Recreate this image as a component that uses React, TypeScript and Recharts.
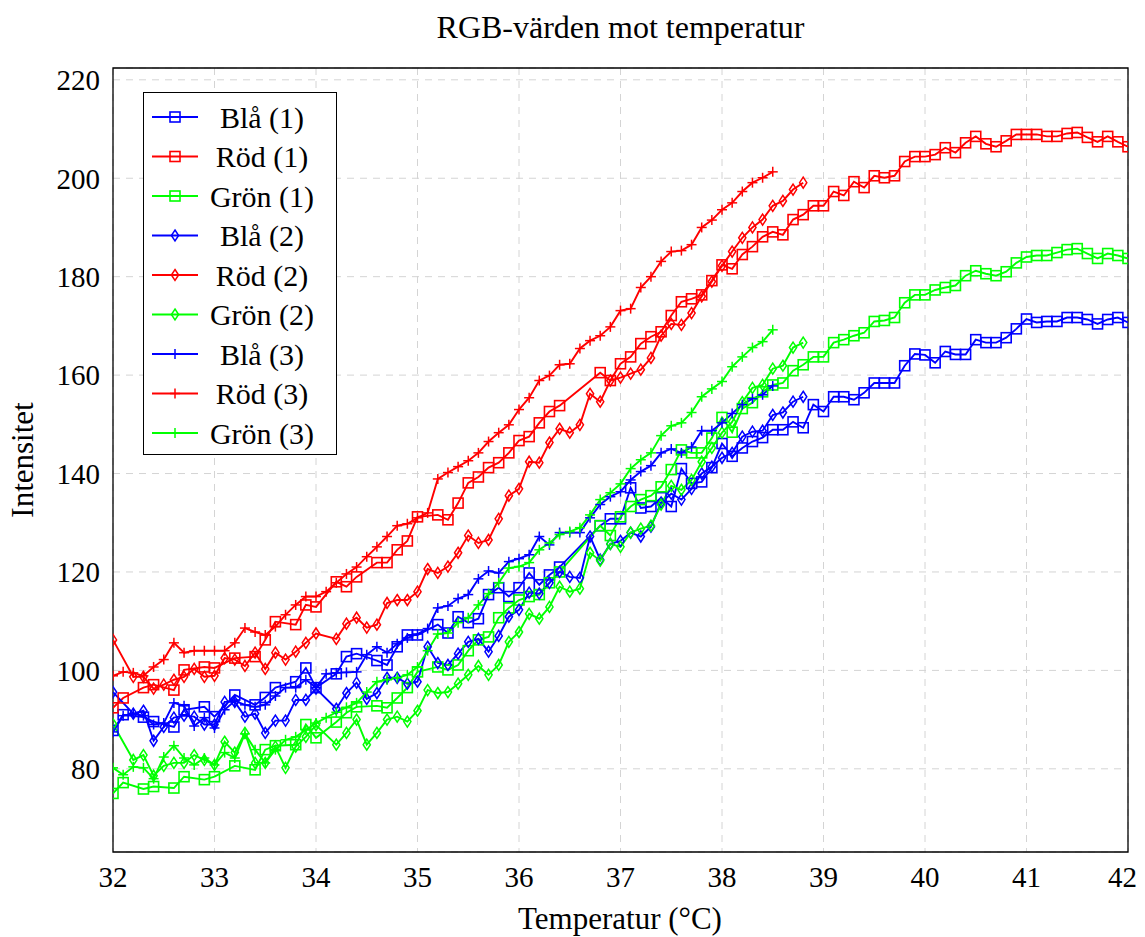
import React from 'react';
import { LineChart, Line, XAxis, YAxis, CartesianGrid, ReferenceArea } from 'recharts';

const FONT = '"Liberation Serif", "Times New Roman", serif';
const BLUE = '#0000ff';
const RED = '#ff0000';
const GREEN = '#00ff00';

const xTicks = [32, 33, 34, 35, 36, 37, 38, 39, 40, 41, 42];
const yTicks = [80, 100, 120, 140, 160, 180, 200, 220];

// Run 1 (squares)
const temps1 = [32.0, 32.1, 32.3, 32.4, 32.6, 32.7, 32.9, 33.0, 33.2, 33.4, 33.5, 33.6, 33.8, 33.9, 34.0,
  34.2, 34.3, 34.4, 34.6, 34.7, 34.8, 34.9, 35.0,
  35.2, 35.3, 35.4, 35.5, 35.6, 35.7, 35.8, 35.9, 36.0, 36.1, 36.2, 36.3, 36.4,
  36.8, 36.9, 37.0, 37.1, 37.2, 37.3, 37.4, 37.5, 37.6, 37.7, 37.8, 37.9, 38.0,
  38.1, 38.2, 38.3, 38.4, 38.5, 38.6, 38.7, 38.8, 38.9, 39.0,
  39.1, 39.2, 39.3, 39.4, 39.5, 39.6, 39.7, 39.8, 39.9, 40.0,
  40.1, 40.2, 40.3, 40.4, 40.5, 40.6, 40.7, 40.8, 40.9, 41.0,
  41.1, 41.2, 41.3, 41.4, 41.5, 41.6, 41.7, 41.8, 41.9, 42.0];
const red1 = [92.4, 94.4, 96.5, 97.1, 96.0, 100.1, 100.7, 100.5, 102.5, 102.8, 106.2, 109.9, 109.3, 113.3, 112.9,
  118.0, 117.0, 119.0, 121.9, 121.9, 124.5, 126.3, 131.2,
  131.6, 130.6, 134.0, 138.1, 139.3, 141.2, 142.2, 144.2, 146.7, 147.5, 150.3, 152.6, 153.8,
  160.5, 158.9, 162.3, 163.7, 166.4, 167.8, 168.8, 172.1, 174.9, 175.5, 176.3, 179.2, 182.4,
  181.6, 184.5, 186.1, 188.1, 189.1, 188.5, 191.6, 192.6, 194.4, 194.4,
  197.3, 196.5, 199.3, 198.1, 200.5, 200.1, 200.5, 203.4, 204.4, 204.4,
  204.8, 206.2, 205.2, 207.2, 208.5, 207.0, 206.4, 207.6, 208.9, 208.9,
  208.9, 208.5, 208.5, 209.1, 209.3, 208.3, 207.4, 208.5, 207.4, 206.4];
const blue1 = [87.8, 91.0, 90.5, 89.6, 88.5, 92.0, 92.6, 90.6, 95.0, 93.0, 94.5, 96.5, 97.7, 100.5, 96.5,
  99.3, 102.8, 103.4, 102.0, 101.1, 104.8, 107.2, 107.2,
  109.3, 107.6, 110.9, 109.7, 110.5, 115.4, 116.8, 115.0, 116.8, 119.8, 117.4, 119.4, 121.0,
  129.4, 130.8, 130.8, 137.1, 133.0, 133.3, 135.1, 133.3, 141.0, 138.0, 138.3, 141.2, 146.1,
  143.5, 145.2, 146.5, 147.3, 148.9, 148.9, 150.5, 149.3, 154.0, 152.6,
  155.6, 155.6, 155.0, 156.4, 158.4, 158.4, 158.4, 161.9, 164.3, 164.1,
  162.5, 164.8, 164.2, 164.2, 167.2, 166.6, 166.6, 167.6, 169.4, 171.4,
  170.7, 170.9, 170.9, 171.7, 171.7, 171.3, 170.4, 171.3, 171.7, 170.7];
const green1 = [75.0, 77.2, 75.9, 76.4, 76.1, 78.4, 77.8, 78.4, 80.6, 79.8, 83.9, 84.7, 84.9, 89.0, 86.3,
  89.5, 91.4, 92.6, 92.8, 92.4, 94.4, 96.5, 99.7,
  100.7, 100.1, 101.1, 104.0, 106.2, 106.8, 110.7, 112.7, 114.3, 115.0, 115.4, 117.8, 120.0,
  129.4, 127.4, 131.2, 133.3, 134.7, 135.5, 137.3, 140.8, 144.8, 144.2, 144.2, 147.2, 151.4,
  148.4, 153.2, 154.4, 156.6, 158.0, 158.4, 160.9, 162.1, 163.7, 163.7,
  166.6, 167.2, 168.0, 168.6, 170.9, 171.1, 171.7, 174.7, 176.3, 176.3,
  177.3, 177.8, 178.2, 180.2, 181.2, 180.6, 180.2, 181.0, 182.8, 184.0,
  184.3, 184.3, 184.9, 185.5, 185.7, 184.7, 183.7, 184.7, 184.3, 183.7];

// Run 2 (diamonds)
const temps2 = [32.0,
  32.2, 32.3, 32.4, 32.5, 32.6, 32.7, 32.8, 32.9, 33.0,
  33.1, 33.2, 33.3, 33.4, 33.5, 33.6, 33.7, 33.8, 33.9, 34.0,
  34.2, 34.3, 34.4, 34.5, 34.6, 34.7, 34.8, 34.9, 35.0,
  35.1, 35.2, 35.3, 35.4, 35.5, 35.6, 35.7, 35.8, 35.9, 36.0,
  36.1, 36.2, 36.3, 36.4, 36.5, 36.6, 36.7, 36.8, 36.9, 37.0,
  37.1, 37.2, 37.3, 37.4, 37.5, 37.6, 37.7, 37.8, 37.9, 38.0,
  38.1, 38.2, 38.3, 38.4, 38.5, 38.6, 38.7, 38.8];
const red2 = [106.2,
  98.7, 98.7, 96.3, 97.1, 98.1, 98.7, 100.3, 98.7, 98.9,
  102.5, 102.2, 100.9, 103.6, 100.3, 103.6, 102.2, 103.8, 105.6, 107.5,
  106.4, 109.5, 110.7, 108.7, 109.3, 113.7, 114.3, 114.3, 116.0,
  120.6, 119.8, 121.1, 123.9, 127.4, 125.9, 126.5, 130.8, 135.5, 136.9,
  142.4, 142.2, 146.3, 149.1, 148.3, 149.9, 156.2, 154.6, 158.9, 159.5,
  160.3, 161.1, 163.5, 168.0, 170.4, 170.2, 172.6, 176.0, 179.0, 182.2,
  185.1, 187.9, 190.0, 191.6, 194.4, 195.4, 197.7, 199.1];
const blue2 = [95.6,
  91.2, 91.8, 85.7, 88.5, 90.4, 90.8, 90.6, 89.0, 89.0,
  93.6, 93.6, 90.6, 91.2, 87.3, 89.8, 89.8, 94.0, 94.0, 96.3,
  92.2, 95.4, 97.5, 94.2, 95.4, 98.5, 98.5, 97.3, 97.7,
  104.8, 101.5, 101.1, 103.4, 105.8, 106.4, 103.8, 107.0, 110.9, 112.3,
  115.8, 115.6, 117.8, 120.0, 119.0, 118.8, 127.2, 122.5, 125.7, 126.3,
  128.0, 127.2, 129.2, 134.1, 135.9, 134.7, 136.9, 140.0, 141.4, 143.2,
  144.2, 147.5, 148.5, 148.7, 151.9, 152.4, 154.6, 155.6];
const green2 = [89.1,
  81.8, 82.8, 78.6, 80.6, 81.2, 81.2, 82.8, 81.8, 80.8,
  85.5, 83.3, 87.3, 81.2, 81.2, 84.5, 80.2, 84.5, 86.5, 88.9,
  84.9, 87.3, 90.0, 84.9, 87.3, 90.0, 90.6, 89.6, 91.8,
  96.0, 95.4, 95.6, 97.3, 99.1, 100.9, 99.1, 101.1, 105.8, 107.8,
  111.5, 110.5, 112.9, 117.0, 116.0, 116.6, 123.9, 122.3, 125.7, 125.1,
  128.0, 128.8, 129.4, 133.7, 137.5, 136.7, 138.7, 142.4, 145.2, 148.3,
  150.5, 154.5, 157.4, 158.0, 161.3, 161.9, 165.6, 166.6];

// Run 3 (plus marks)
const temps3 = [32.0, 32.1, 32.2, 32.3, 32.4, 32.5, 32.6, 32.7, 32.8, 32.9,
  33.0, 33.1, 33.2, 33.3, 33.4, 33.5, 33.6, 33.7, 33.8, 33.9,
  34.0, 34.1, 34.2, 34.3, 34.4, 34.5, 34.6, 34.7, 34.8, 34.9,
  35.0, 35.1, 35.2, 35.3, 35.4, 35.5, 35.6, 35.7, 35.8, 35.9,
  36.0, 36.1, 36.2, 36.3, 36.4, 36.5, 36.6, 36.7, 36.8, 36.9,
  37.0, 37.1, 37.2, 37.3, 37.4, 37.5, 37.6, 37.7, 37.8, 37.9,
  38.0, 38.1, 38.2, 38.3, 38.4, 38.5];
const red3 = [98.9, 99.7, 99.5, 98.9, 100.7, 102.2, 105.6, 103.6, 104.0, 104.0,
  104.0, 104.0, 105.6, 108.6, 107.8, 107.2, 108.9, 111.3, 113.3, 115.0,
  115.0, 116.0, 117.8, 119.6, 121.0, 123.1, 125.1, 127.2, 129.4, 129.8,
  131.0, 132.0, 138.9, 140.2, 141.4, 142.6, 144.2, 146.5, 148.3, 149.9,
  153.0, 155.4, 158.9, 159.9, 162.1, 162.3, 165.4, 167.0, 168.0, 169.8,
  173.1, 173.5, 177.8, 180.0, 183.1, 185.1, 185.3, 186.5, 190.0, 191.5,
  193.6, 195.0, 197.3, 199.1, 200.1, 201.3];
const blue3 = [87.5, 90.8, 91.2, 90.8, 89.0, 89.3, 93.4, 92.8, 88.7, 90.4,
  88.3, 92.0, 93.8, 93.0, 92.6, 93.0, 94.8, 96.5, 96.5, 98.1,
  96.5, 99.3, 99.5, 99.6, 99.7, 103.2, 104.8, 103.6, 105.4, 106.6,
  107.4, 108.5, 112.7, 113.1, 114.6, 115.4, 118.6, 120.2, 119.8, 122.1,
  122.7, 123.5, 127.2, 125.5, 128.0, 128.0, 128.0, 131.0, 133.7, 135.3,
  136.3, 138.7, 140.4, 141.6, 144.2, 145.0, 144.2, 145.4, 148.7, 148.7,
  150.3, 152.2, 154.0, 155.2, 156.0, 157.8];
const green3 = [80.2, 78.8, 80.4, 80.2, 78.0, 82.4, 84.7, 82.2, 80.8, 82.2,
  80.8, 83.3, 82.2, 87.1, 83.9, 81.2, 83.9, 85.9, 86.5, 87.9,
  89.3, 90.4, 91.5, 92.5, 93.4, 95.6, 97.7, 98.1, 98.5, 99.1,
  100.7, 104.0, 107.4, 107.6, 109.7, 110.7, 113.3, 115.6, 117.8, 120.8,
  121.1, 121.9, 124.5, 125.9, 127.6, 128.2, 129.0, 131.6, 134.7, 136.1,
  137.9, 141.0, 142.8, 144.2, 147.7, 149.7, 150.3, 152.4, 155.6, 157.2,
  158.7, 161.7, 163.7, 165.6, 166.8, 169.2];

type Shape = 'square' | 'diamond' | 'plus';

function buildRun(temps: number[], b: number[], r: number[], g: number[]) {
  return temps.map((t, i) => ({ t, b: b[i], r: r[i], g: g[i] }));
}

const run1 = buildRun(temps1, blue1, red1, green1);
const run2 = buildRun(temps2, blue2, red2, green2);
const run3 = buildRun(temps3, blue3, red3, green3);

const series: { name: string; data: any[]; key: string; color: string; shape: Shape }[] = [
  { name: 'Blå (1)', data: run1, key: 'b', color: BLUE, shape: 'square' },
  { name: 'Röd (1)', data: run1, key: 'r', color: RED, shape: 'square' },
  { name: 'Grön (1)', data: run1, key: 'g', color: GREEN, shape: 'square' },
  { name: 'Blå (2)', data: run2, key: 'b', color: BLUE, shape: 'diamond' },
  { name: 'Röd (2)', data: run2, key: 'r', color: RED, shape: 'diamond' },
  { name: 'Grön (2)', data: run2, key: 'g', color: GREEN, shape: 'diamond' },
  { name: 'Blå (3)', data: run3, key: 'b', color: BLUE, shape: 'plus' },
  { name: 'Röd (3)', data: run3, key: 'r', color: RED, shape: 'plus' },
  { name: 'Grön (3)', data: run3, key: 'g', color: GREEN, shape: 'plus' },
];

function Marker({ shape, cx, cy, color }: { shape: Shape; cx: number; cy: number; color: string }) {
  if (shape === 'square') {
    return <rect x={cx - 5} y={cy - 5} width={10} height={10} fill="none" stroke={color} strokeWidth={1.6} />;
  }
  if (shape === 'diamond') {
    return (
      <polygon
        points={`${cx},${cy - 5.5} ${cx + 3.6},${cy} ${cx},${cy + 5.5} ${cx - 3.6},${cy}`}
        fill="none"
        stroke={color}
        strokeWidth={1.5}
      />
    );
  }
  return (
    <g>
      <line x1={cx - 5} y1={cy} x2={cx + 5} y2={cy} stroke={color} strokeWidth={1.5} />
      <line x1={cx} y1={cy - 5} x2={cx} y2={cy + 5} stroke={color} strokeWidth={1.5} />
    </g>
  );
}

const makeDot = (shape: Shape, color: string) => (props: any) => {
  const { cx, cy, index } = props;
  if (cx == null || cy == null) return <g key={`d-${index}`} />;
  return (
    <g key={`d-${index}`}>
      <Marker shape={shape} cx={cx} cy={cy} color={color} />
    </g>
  );
};

function LegendBox() {
  const rowY = (i: number) => 24 + 39.5 * i;
  return (
    <div
      style={{
        position: 'absolute',
        left: 135,
        top: 84,
        width: 194,
        height: 363,
        background: '#fff',
        border: '1px solid #000',
        boxSizing: 'border-box',
      }}
    >
      <svg width={192} height={361} style={{ display: 'block' }}>
        {series.map((s, i) => (
          <g key={s.name}>
            <line x1={8} y1={rowY(i)} x2={54} y2={rowY(i)} stroke={s.color} strokeWidth={1.9} />
            <Marker shape={s.shape} cx={31} cy={rowY(i)} color={s.color} />
            <text
              x={118}
              y={rowY(i)}
              textAnchor="middle"
              dominantBaseline="central"
              fontFamily={FONT}
              fontSize={30}
              fill="#000"
            >
              {s.name}
            </text>
          </g>
        ))}
      </svg>
    </div>
  );
}

export default function App() {
  const tickStyle = { fontSize: 29, fill: '#000', fontFamily: FONT };
  return (
    <div style={{ position: 'relative', width: 1129, height: 929, fontFamily: FONT }}>
      <style>{'.recharts-surface{overflow:visible}'}</style>
      <div
        style={{
          position: 'absolute',
          left: 105,
          width: 1015,
          top: 3,
          textAlign: 'center',
          fontSize: 32,
          lineHeight: '32px',
          color: '#000',
        }}
      >
        RGB-värden mot temperatur
      </div>
      <LineChart width={1129} height={929} margin={{ top: 60, right: 9, bottom: 0, left: 0 }}>
        <CartesianGrid stroke="#d4d4d4" strokeDasharray="7 6" strokeWidth={1} />
        <XAxis
          type="number"
          dataKey="t"
          domain={[32, 42]}
          ticks={xTicks}
          allowDataOverflow
          height={85}
          axisLine={false}
          tickLine={false}
          tickSize={6}
          tickMargin={8}
          tick={tickStyle}
        />
        <YAxis
          type="number"
          domain={[63.1, 222.4]}
          ticks={yTicks}
          allowDataOverflow
          width={105}
          axisLine={false}
          tickLine={false}
          tickSize={6}
          tickMargin={7}
          tick={tickStyle}
        />
        {series.map((s) => (
          <Line
            key={s.name}
            data={s.data}
            dataKey={s.key}
            name={s.name}
            stroke={s.color}
            strokeWidth={1.9}
            dot={makeDot(s.shape, s.color)}
            activeDot={false}
            isAnimationActive={false}
            legendType="none"
          />
        ))}
        <ReferenceArea
          x1={32}
          x2={42}
          y1={63.1}
          y2={222.4}
          fill="none"
          fillOpacity={0}
          stroke="#000"
          strokeWidth={1.3}
          ifOverflow="visible"
        />
      </LineChart>
      <LegendBox />
      <div
        style={{
          position: 'absolute',
          left: 612,
          top: 910,
          transform: 'translate(-50%, -50%)',
          whiteSpace: 'nowrap',
          fontSize: 31,
          lineHeight: '31px',
          color: '#000',
        }}
      >
        Temperatur (°C)
      </div>
      <div
        style={{
          position: 'absolute',
          left: 14,
          top: 452,
          transform: 'translate(-50%, -50%) rotate(-90deg)',
          whiteSpace: 'nowrap',
          fontSize: 31,
          lineHeight: '31px',
          color: '#000',
        }}
      >
        Intensitet
      </div>
    </div>
  );
}
